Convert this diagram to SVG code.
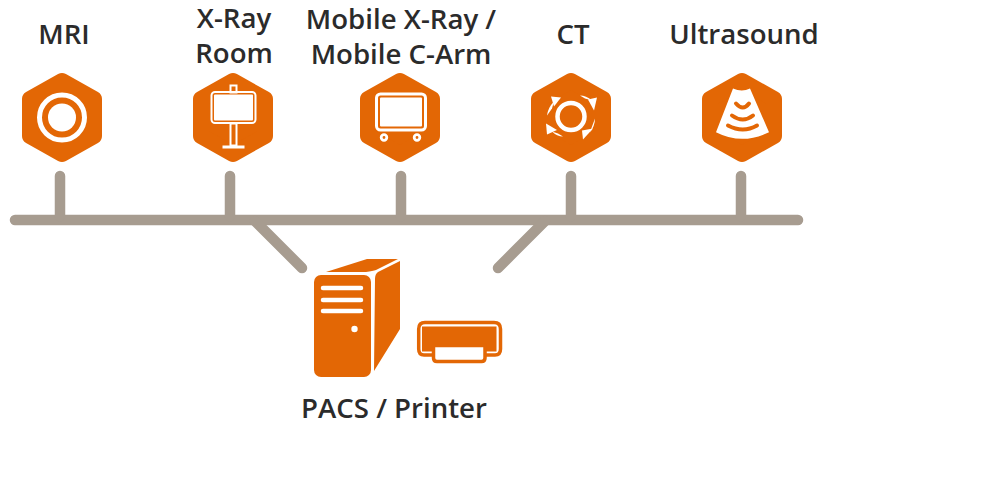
<svg xmlns="http://www.w3.org/2000/svg" width="1000" height="483" viewBox="0 0 1000 483">
<style>
text{font-family:"Open Sans","Noto Sans","Liberation Sans",sans-serif;font-size:27.600px;font-weight:600;fill:#2b2b2b;text-anchor:middle}
.bus{fill:none;stroke:#a79c90;stroke-width:10.500px;stroke-linecap:round}
.hex{fill:#e36705;stroke:#e36705;stroke-width:16px;stroke-linejoin:round}
.o{fill:#e36705}
.w{fill:#fff}
.ws{fill:none;stroke:#fff;stroke-width:3px}
.wsr{fill:none;stroke:#fff;stroke-width:4.500px;stroke-linecap:round}
.os{fill:none;stroke:#e36705;stroke-width:4px;stroke-linecap:round}
</style>
<defs>
<polygon id="hex" class="hex" points="0,-36.500 32,-18.500 32,18.500 0,36.500 -32,18.500 -32,-18.500"/>
</defs>
<g id="connectors">
<path class="bus" d="M15 220H798"/>
<path class="bus" d="M60 176V216M230 176V216M401 176V216M571 176V216M741 176V216"/>
<path class="bus" d="M255 221L302 268M545 221L498 268"/>
</g>
<g id="mri">
<text x="64" y="44">MRI</text>
<g transform="translate(62,117.500)"><use href="#hex"/>
<circle r="22.500" fill="none" stroke="#fff" stroke-width="5"/><circle r="14" class="w"/></g>
</g>
<g id="xray-room">
<text x="234" y="28">X-Ray</text><text x="234" y="63">Room</text>
<g transform="translate(233,117.500)"><use href="#hex"/>
<rect x="-2.500" y="-32" width="6" height="7" fill="none" stroke="#fff" stroke-width="2"/>
<rect x="-21.500" y="-25.500" width="44" height="31" rx="3.500" fill="none" stroke="#fff" stroke-width="2"/>
<rect x="-19" y="-23" width="39" height="26" rx="1" class="w"/>
<rect x="-2.500" y="6" width="6" height="22" fill="none" stroke="#fff" stroke-width="2"/>
<rect x="-10.500" y="28" width="22" height="3" class="w"/>
</g>
</g>
<g id="mobile-xray">
<text x="401" y="29">Mobile X-Ray /</text><text x="401" y="64">Mobile C-Arm</text>
<g transform="translate(400,117.500)"><use href="#hex"/>
<rect x="-23.500" y="-23.500" width="49" height="36" rx="4" fill="none" stroke="#fff" stroke-width="3"/>
<rect x="-20" y="-20" width="42" height="29" rx="1" class="w"/>
<circle cx="-16" cy="20" r="2.800" fill="none" stroke="#fff" stroke-width="2.800"/>
<circle cx="17" cy="20" r="2.800" fill="none" stroke="#fff" stroke-width="2.800"/></g>
</g>
<g id="ct">
<text x="573" y="44">CT</text>
<g transform="translate(571,117.500)"><use href="#hex"/>
<circle r="13.500" cy="-1" fill="none" stroke="#fff" stroke-width="4.500"/>
<path class="w" d="M-24 -2Q-23 -10 -17 -16L-19 -9Z"/>
<path class="w" d="M-20 -21L-10 -20L-17 -11Z"/>
<path class="w" d="M9 -22Q15 -22 21 -17L14 -19Z"/>
<path class="w" d="M26 -20L23 -7L17 -18Z"/>
<path class="w" d="M24 1Q24 8 19 15L21 9Z"/>
<path class="w" d="M22 11L11 13L12 22Z"/>
<path class="w" d="M-8 19Q-14 19 -19 14L-13 16Z"/>
<path class="w" d="M-25 6L-24 17L-14 12.500Z"/></g>
</g>
<g id="ultrasound">
<text x="744" y="44">Ultrasound</text>
<g transform="translate(742,117.500)"><use href="#hex"/>
<path class="w" d="M-9 -29Q0 -25 8 -29L27 14.700Q0 28 -26 14.700Z"/>
<path class="os" d="M-6 -14Q1 -6 7 -14"/>
<path class="os" d="M-10 -2Q1 6 11 -2"/>
<path class="os" d="M-14 8Q1 16 15 8"/></g>
</g>
<g id="pacs-printer">
<text x="394" y="418">PACS / Printer</text>
<path class="o" d="M326 272L367 259H398L376 270Q373 271 366 272Z"/>
<path class="o" d="M375 279Q375 274 378 272L400 261V329L374 371Z"/>
<rect x="314" y="275" width="57" height="102" rx="7" class="o"/>
<path class="wsr" d="M323 288H361M323 300H361M323 311H361"/>
<circle cx="354.500" cy="329" r="3.200" class="w"/>
<path fill="none" stroke="#e36705" stroke-width="3.500" stroke-linejoin="round" d="M433 355H424Q418.700 355 418.700 349V329Q418.700 322.500 425 322.500H494Q500.500 322.500 500.500 329V349Q500.500 355 495 355H486"/>
<path class="o" d="M422 326.500H496.500V351.500H422Z"/>
<path fill="#fff" stroke="#e36705" stroke-width="3.500" stroke-linejoin="round" d="M433.500 345.500H485V358Q485 361.500 481.500 361.500H437Q433.500 361.500 433.500 358Z"/>
</g>
</svg>
